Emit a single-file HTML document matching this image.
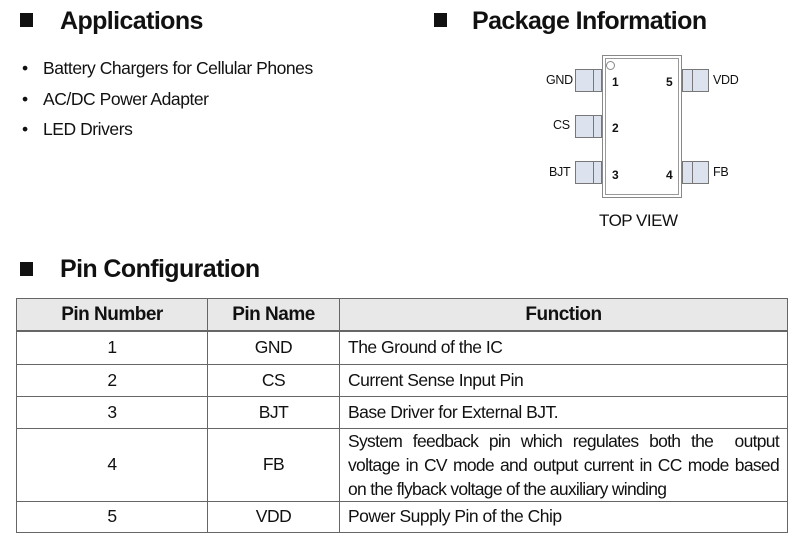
<!DOCTYPE html>
<html><head><style>
body{margin:0;width:800px;height:540px;background:#fff;font-family:"Liberation Sans",sans-serif;position:relative;overflow:hidden;color:#111}
.a{position:absolute}
.h{font-weight:bold;font-size:25px;white-space:nowrap;letter-spacing:-0.6px}
.sq{position:absolute;width:13px;height:14px;background:#111}
.li{position:absolute;left:22px;font-size:17.5px;white-space:nowrap;letter-spacing:-0.45px}
.li span{position:absolute;left:21px}
.pin{position:absolute;width:27px;height:23px;background:#dde3ee;border:1px solid #777;box-sizing:border-box}
.pl{position:absolute;font-size:12.5px;white-space:nowrap;letter-spacing:-0.3px}
.pn{position:absolute;font-size:12px;font-weight:bold}
table{position:absolute;left:16px;top:298px;width:772px;border-collapse:collapse;font-size:17.5px;letter-spacing:-0.5px}
td,th{border:1px solid #666;padding:0 8px;line-height:23px}
th{background:#e8e8e8;font-size:19px;height:31px;border-bottom:2px solid #666}
td.c{text-align:center}
</style></head><body>
<div class="sq" style="left:20px;top:13px"></div><div class="a h" style="left:60px;top:7px">Applications</div>
<div class="sq" style="left:434px;top:13px"></div><div class="a h" style="left:472px;top:7px">Package Information</div>
<div class="li" style="top:58px">•<span>Battery Chargers for Cellular Phones</span></div>
<div class="li" style="top:89px">•<span>AC/DC Power Adapter</span></div>
<div class="li" style="top:119px">•<span>LED Drivers</span></div>

<div class="a" style="left:602px;top:55px;width:80px;height:143px;border:1px solid #888;box-sizing:border-box"><div style="position:absolute;left:2px;top:2px;right:2px;bottom:2px;border:1px solid #999"></div></div>
<div class="a" style="left:606px;top:61px;width:7px;height:7px;border:1px solid #888;border-radius:50%"></div>
<div class="pin" style="left:575px;top:69px"><div style="position:absolute;left:17px;top:0;bottom:0;border-left:1px solid #777"></div></div>
<div class="pin" style="left:575px;top:115px"><div style="position:absolute;left:17px;top:0;bottom:0;border-left:1px solid #777"></div></div>
<div class="pin" style="left:575px;top:161px"><div style="position:absolute;left:17px;top:0;bottom:0;border-left:1px solid #777"></div></div>
<div class="pin" style="left:682px;top:69px"><div style="position:absolute;left:9px;top:0;bottom:0;border-left:1px solid #777"></div></div>
<div class="pin" style="left:682px;top:161px"><div style="position:absolute;left:9px;top:0;bottom:0;border-left:1px solid #777"></div></div>
<div class="pl" style="left:546px;top:73px">GND</div>
<div class="pl" style="left:553px;top:118px">CS</div>
<div class="pl" style="left:549px;top:165px">BJT</div>
<div class="pl" style="left:713px;top:73px">VDD</div>
<div class="pl" style="left:713px;top:165px">FB</div>
<div class="pn" style="left:612px;top:75px">1</div>
<div class="pn" style="left:612px;top:121px">2</div>
<div class="pn" style="left:612px;top:168px">3</div>
<div class="pn" style="left:666px;top:75px">5</div>
<div class="pn" style="left:666px;top:168px">4</div>
<div class="a" style="left:599px;top:211px;font-size:17px;letter-spacing:-0.5px">TOP VIEW</div>

<div class="sq" style="left:20px;top:262px"></div><div class="a h" style="left:60px;top:255px">Pin Configuration</div>
<table>
<tr><th style="width:174px">Pin Number</th><th style="width:115px">Pin Name</th><th>Function</th></tr>
<tr style="height:33px"><td class="c">1</td><td class="c">GND</td><td>The Ground of the IC</td></tr>
<tr style="height:32px"><td class="c">2</td><td class="c">CS</td><td>Current Sense Input Pin</td></tr>
<tr style="height:32px"><td class="c">3</td><td class="c">BJT</td><td>Base Driver for External BJT.</td></tr>
<tr style="height:72px"><td class="c">4</td><td class="c">FB</td><td style="text-align:justify;text-align-last:left;line-height:24px;letter-spacing:-0.7px">System feedback pin which regulates both the&nbsp; output voltage in CV mode and output current in CC mode based on the flyback voltage of the auxiliary winding</td></tr>
<tr style="height:31px"><td class="c">5</td><td class="c">VDD</td><td>Power Supply Pin of the Chip</td></tr>
</table>
</body></html>
